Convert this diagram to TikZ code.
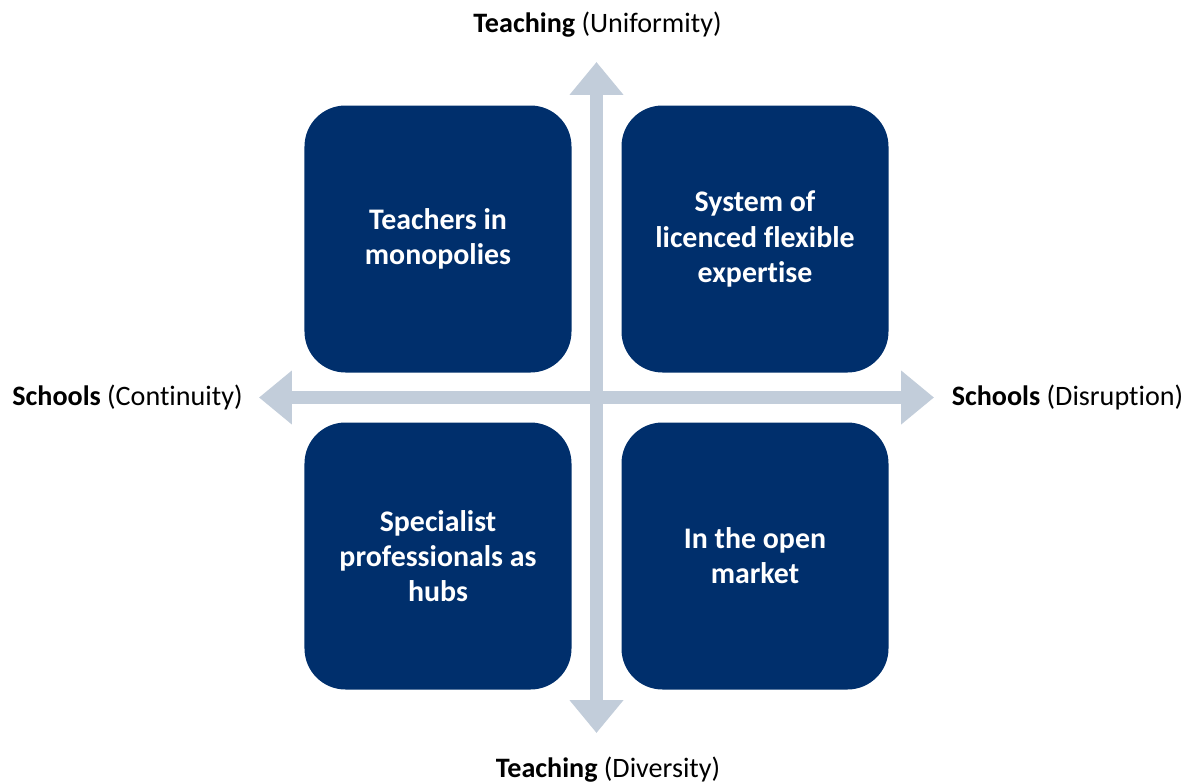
\documentclass[tikz,border=0pt]{standalone}
\usepackage{fontspec}
\setmainfont{Carlito}[Ligatures=NoCommon]
\usepackage{xcolor}
\usetikzlibrary{arrows.meta}
\definecolor{quadblue}{RGB}{0,47,108}
\definecolor{axisgrey}{RGB}{194,205,218}

\begin{document}
\begin{tikzpicture}[
  quad/.style={fill=quadblue, rounded corners=0.82cm, minimum width=5.34cm, minimum height=5.34cm, inner sep=0pt, align=center, text=white, font=\fontsize{17}{20}\selectfont\bfseries},
  axlbl/.style={font=\fontsize{16}{19}\selectfont, inner sep=0pt},
  axisarr/.style={{Triangle[length=0.66cm,width=1.04cm]}-{Triangle[length=0.66cm,width=1.04cm]}, line width=0.26cm, draw=axisgrey}
]
\useasboundingbox (-11.93,-7.69) rectangle (11.95,7.95);

% axis ends
\coordinate (top) at (0,6.71);
\coordinate (bot) at (0,-6.71);
\coordinate (lft) at (-6.75,0);
\coordinate (rgt) at (6.75,0);
\draw[axisarr] (bot) -- (top);
\draw[axisarr] (lft) -- (rgt);

% quadrants
\node[quad] (q1) at (-3.17,3.17)  {Teachers in\\monopolies};
\node[quad] (q2) at (3.17,3.17)   {System of\\licenced flexible\\expertise};
\node[quad] (q3) at (-3.17,-3.17) {Specialist\\professionals as\\hubs};
\node[quad] (q4) at (3.17,-3.17)  {In the open\\market};

% axis labels
\node[axlbl] (lup) at (0.02,7.45)  {\textbf{Teaching} (Uniformity)};
\node[axlbl] (ldn) at (0.23,-7.44) {\textbf{Teaching} (Diversity)};
\node[axlbl] (llf) at (-9.38,0)    {\textbf{Schools} (Continuity)};
\node[axlbl] (lrt) at (9.42,0)     {\textbf{Schools} (Disruption)};
\end{tikzpicture}
\end{document}
